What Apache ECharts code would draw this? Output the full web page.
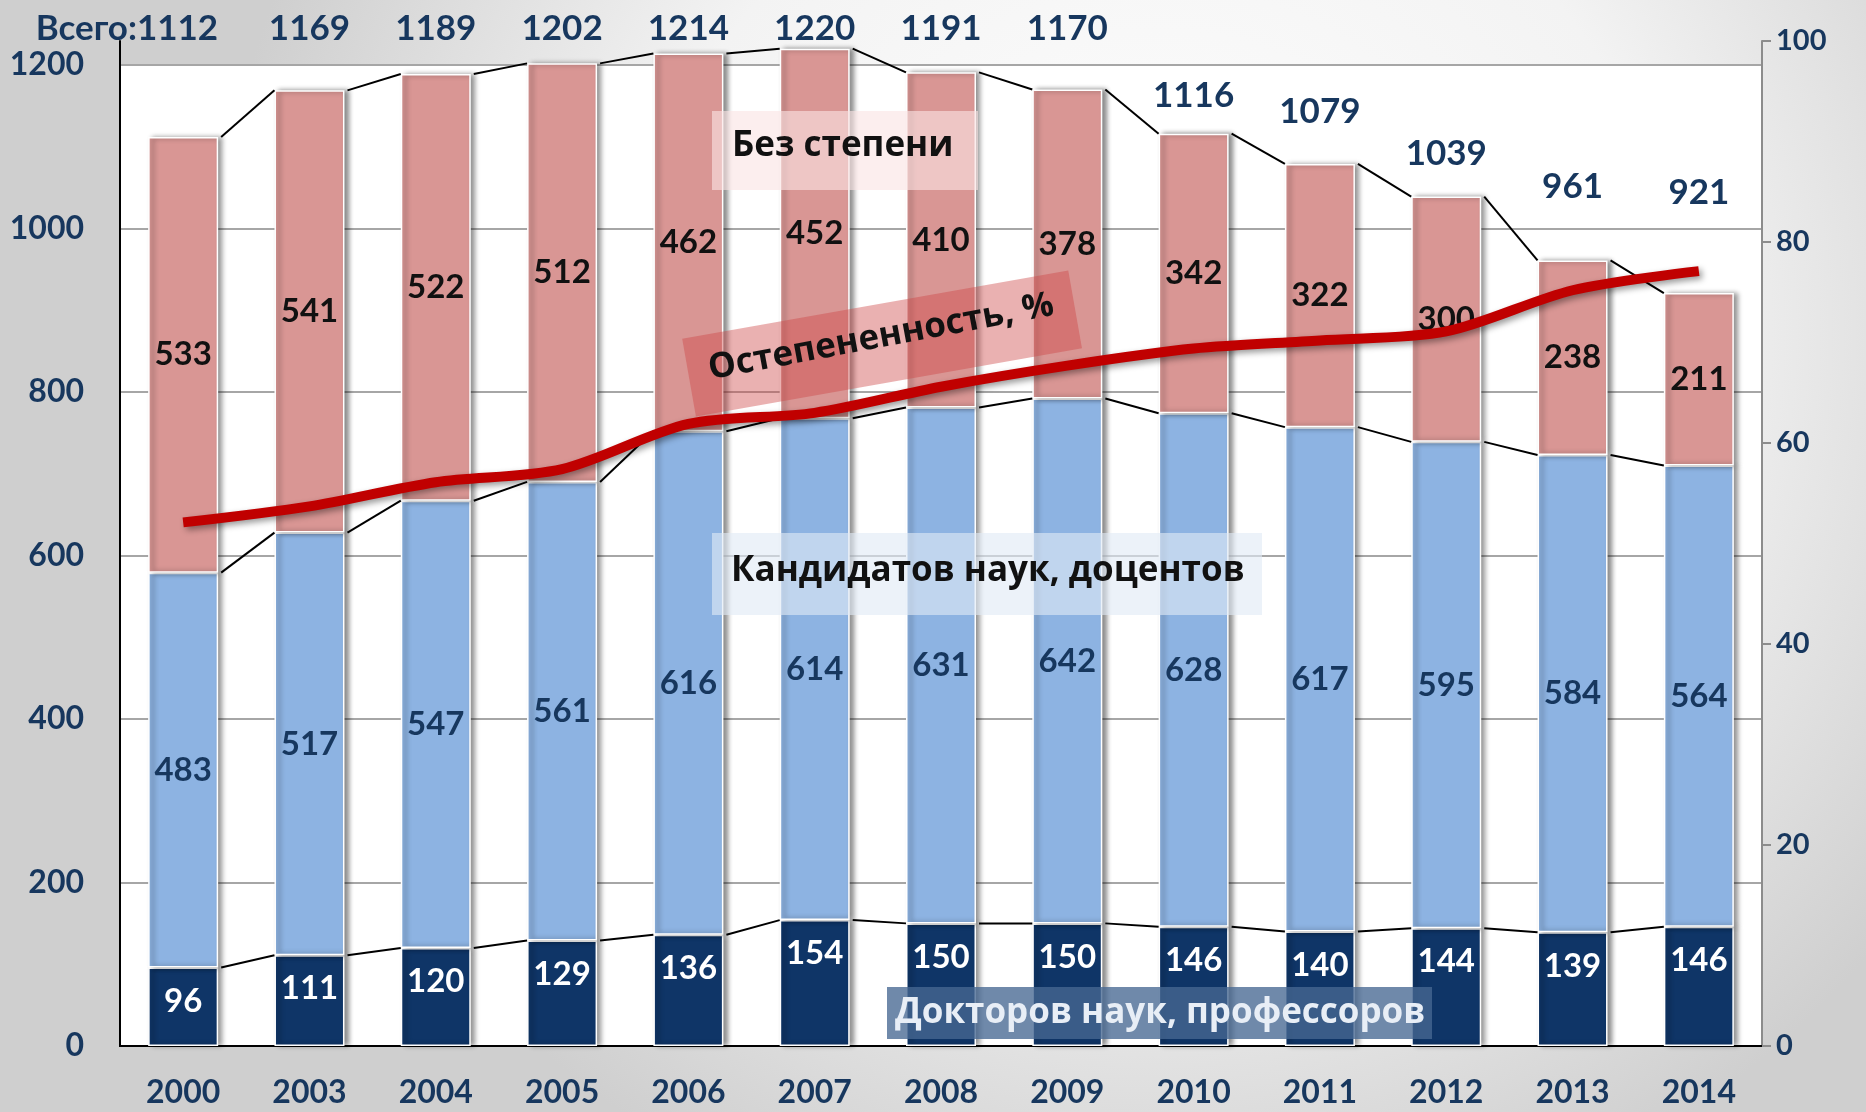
<!DOCTYPE html>
<html><head><meta charset="utf-8">
<script src="https://cdn.jsdelivr.net/npm/echarts@6/dist/echarts.min.js"></script>
<style>html,body{margin:0;padding:0;background:#fff;} #c{width:1866px;height:1112px;}</style>
</head><body><div id="c"></div>
<script>
// ---- data ----
const years = ['2000','2003','2004','2005','2006','2007','2008','2009','2010','2011','2012','2013','2014'];
const doctors = [96,111,120,129,136,154,150,150,146,140,144,139,146];
const candidates = [483,517,547,561,616,614,631,642,628,617,595,584,564];
const noDegree = [533,541,522,512,462,452,410,378,342,322,300,238,211];
const totals = [1112,1169,1189,1202,1214,1220,1191,1170,1116,1079,1039,961,921];
const degreeShare = [52.1,53.7,56.1,57.4,61.9,63.0,65.6,67.7,69.4,70.2,71.1,75.2,77.1];
const totalPrefix = 'Всего:';
const seriesNames = ['Докторов наук, профессоров','Кандидатов наук, доцентов','Без степени','Остепененность, %'];

// ---- layout (not data) ----
const totalLabelLevel = [1244,1244,1244,1244,1244,1244,1244,1244,1163,1143,1091,1051,1044];
const BAR_W = 70;
const NAVY = '#17375e';
const FONT_NUM = 'Lato, "Open Sans", sans-serif';
const FONT_TXT = '"Open Sans", "Noto Sans", sans-serif';

const chart = echarts.init(document.getElementById('c'), null, {renderer:'canvas'});

const midTops = doctors.map((d,i)=>d+candidates[i]);

function connector(tops){
  const data = tops.slice(0,-1).map((v,i)=>[i, v, tops[i+1]]);
  return {
    type:'custom', xAxisIndex:0, yAxisIndex:0, z:3, silent:true, clip:false, data, encode:{x:0,y:1},
    renderItem(params, api){
      const i = api.value(0);
      const p1 = api.coord([i, api.value(1)]);
      const p2 = api.coord([i+1, api.value(2)]);
      const hw = BAR_W/2;
      return {type:'line', shape:{x1:p1[0]+hw+3, y1:p1[1], x2:p2[0]-hw, y2:p2[1]},
        style:{stroke:'#000', lineWidth:2}};
    }
  };
}

const barCommon = {
  type:'bar', stack:'t', xAxisIndex:0, yAxisIndex:0, barWidth:BAR_W, z:2, clip:false,
  itemStyle:{borderColor:'#fff', borderWidth:1.5, shadowColor:'rgba(0,0,0,0.45)', shadowBlur:5, shadowOffsetX:4, shadowOffsetY:0}
};
const labelFont = {fontFamily:FONT_NUM, fontWeight:'bold', fontSize:33};

const option = {
  animation:false,
  backgroundColor:{type:'radial', x:0.62, y:0.3, r:0.85, colorStops:[
    {offset:0,color:'#ffffff'},{offset:0.55,color:'#f3f3f3'},{offset:1,color:'#cfcfcf'}]},
  grid:[
    {left:120, right:104, top:65, bottom:66, show:true, backgroundColor:'#ffffff', borderWidth:0},
    {left:120, right:104, top:41, bottom:66}
  ],
  xAxis:[
    {type:'category', gridIndex:0, data:years,
      axisLine:{lineStyle:{color:'#000', width:2}}, axisTick:{show:false},
      axisLabel:{fontFamily:FONT_NUM, fontWeight:'bold', fontSize:32, color:NAVY, margin:31}},
    {type:'category', gridIndex:1, data:years, show:false}
  ],
  yAxis:[
    {type:'value', gridIndex:0, min:0, max:1200, interval:200,
      axisLine:{show:true, lineStyle:{color:'#000', width:2}}, axisTick:{show:false},
      splitLine:{lineStyle:{color:'#a6a6a6', width:2}},
      axisLabel:{fontFamily:FONT_NUM, fontWeight:'bold', fontSize:32, color:NAVY, margin:36,
        formatter:(v)=>String(v)}},
    {type:'value', gridIndex:1, position:'right', min:0, max:100, interval:20,
      axisLine:{show:true, lineStyle:{color:'#8c8c8c', width:2}},
      axisTick:{show:true, length:9, lineStyle:{color:'#8c8c8c', width:2}},
      splitLine:{show:false},
      axisLabel:{fontFamily:FONT_NUM, fontWeight:'bold', fontSize:29, color:NAVY, margin:14}},
    {type:'value', gridIndex:1, position:'left', min:0, max:100, interval:20,
      axisLine:{show:true, lineStyle:{color:'#000', width:2}},
      axisTick:{show:false}, axisLabel:{show:false}, splitLine:{show:false}}
  ],
  series:[
    Object.assign({}, barCommon, {name:seriesNames[0], data:doctors,
      itemStyle:Object.assign({}, barCommon.itemStyle, {color:'#0f3567'}),
      label:Object.assign({show:true, position:'insideTop', distance:17, color:'#fff'}, labelFont)}),
    Object.assign({}, barCommon, {name:seriesNames[1], data:candidates,
      itemStyle:Object.assign({}, barCommon.itemStyle, {color:'#8db3e2'}),
      label:Object.assign({show:true, position:'inside', color:'#17375e'}, labelFont)}),
    Object.assign({}, barCommon, {name:seriesNames[2], data:noDegree,
      itemStyle:Object.assign({}, barCommon.itemStyle, {color:'#d99694'}),
      label:Object.assign({show:true, position:'inside', color:'#111'}, labelFont)}),
    connector(doctors),
    connector(midTops),
    connector(totals),
    {
      type:'custom', xAxisIndex:0, yAxisIndex:0, z:4, silent:true, clip:false,
      data: totals.map((v,i)=>[i, totalLabelLevel[i], v]), encode:{x:0,y:1},
      renderItem(params, api){
        const i = api.value(0);
        const p = api.coord([i, api.value(1)]);
        const txt = String(api.value(2));
        if (i === 0) {
          return {type:'text', x:p[0]+35, y:p[1], style:{text:totalPrefix+txt, fill:NAVY,
            font:'bold 35px '+FONT_NUM, align:'right', verticalAlign:'middle'}};
        }
        return {type:'text', x:p[0], y:p[1], style:{text:txt, fill:NAVY,
          font:'bold 35px '+FONT_NUM, align:'center', verticalAlign:'middle'}};
      }
    },
    {
      name:seriesNames[3], type:'line', xAxisIndex:1, yAxisIndex:1, data:degreeShare, z:10,
      smooth:0.3, symbol:'none',
      lineStyle:{color:'#c00000', width:10, shadowColor:'rgba(0,0,0,0.4)', shadowBlur:6, shadowOffsetX:3, shadowOffsetY:3}
    }
  ],
  graphic:[
    {type:'rect', z:5, x:712, y:111, shape:{width:266, height:79}, style:{fill:'rgba(250,228,228,0.62)'}},
    {type:'text', z:6, x:732, y:146, style:{text:seriesNames[2], fill:'#111', font:'bold 35px '+FONT_TXT, align:'left', verticalAlign:'middle'}},
    {type:'rect', z:5, x:712, y:533, shape:{width:550, height:82}, style:{fill:'rgba(225,234,246,0.62)'}},
    {type:'text', z:6, x:731, y:571, style:{text:seriesNames[1], fill:'#111', font:'bold 35px '+FONT_TXT, align:'left', verticalAlign:'middle'}},
    {type:'rect', z:5, x:887, y:987, shape:{width:545, height:52}, style:{fill:'rgba(70,104,146,0.78)'}},
    {type:'text', z:6, x:895, y:1013, style:{text:seriesNames[0], fill:'#e8eef6', font:'bold 35px '+FONT_TXT, align:'left', verticalAlign:'middle'}},
    {type:'group', z:5, x:882, y:343, rotation:10*Math.PI/180, children:[
      {type:'rect', z:5, shape:{x:-196, y:-39, width:392, height:79}, style:{fill:'rgba(205,70,70,0.42)'}},
      {type:'text', z:6, x:0, y:-6, rotation:0.6*Math.PI/180, style:{text:seriesNames[3], fill:'#111', font:'bold 35px '+FONT_TXT, align:'center', verticalAlign:'middle'}}
    ]}
  ]
};
chart.setOption(option);
</script>
</body></html>
